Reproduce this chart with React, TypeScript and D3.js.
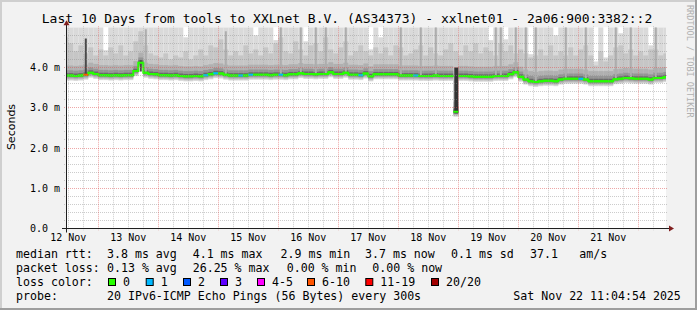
import React from "react";
import * as d3 from "d3";

// ---------- data ----------
const graphStart = new Date(Date.UTC(2025, 10, 12, 11, 4, 54));
const graphEnd = new Date(Date.UTC(2025, 10, 22, 11, 4, 54));
const firstBucket = new Date(Date.UTC(2025, 10, 12, 10, 0, 0));
const bucketHours = 2;

// median rtt per 2h bucket (ms)
const medianRtt = [
  3.8, 3.8, 3.79, 3.8, 3.82, 3.87, 3.84, 3.81, 3.81, 3.8,
  3.81, 3.8, 3.81, 3.81, 3.91, 4.12, 3.87, 3.84, 3.83, 3.81,
  3.81, 3.8, 3.81, 3.79, 3.78, 3.78, 3.79, 3.78, 3.81, 3.83,
  3.86, 3.85, 3.82, 3.8, 3.8, 3.8, 3.8, 3.82, 3.82, 3.82,
  3.82, 3.81, 3.82, 3.82, 3.81, 3.83, 3.83, 3.86, 3.84, 3.84,
  3.83, 3.84, 3.84, 3.88, 3.84, 3.84, 3.87, 3.82, 3.82, 3.81,
  3.85, 3.78, 3.83, 3.83, 3.83, 3.83, 3.83, 3.8, 3.8, 3.8,
  3.8, 3.79, 3.79, 3.79, 3.8, 3.79, 3.79, 3.79, 2.9, 3.79,
  3.79, 3.78, 3.77, 3.77, 3.77, 3.77, 3.79, 3.79, 3.79, 3.83,
  3.88, 3.77, 3.7, 3.66, 3.64, 3.66, 3.67, 3.67, 3.66, 3.7,
  3.72, 3.72, 3.72, 3.72, 3.7, 3.66, 3.66, 3.66, 3.66, 3.66,
  3.71, 3.72, 3.74, 3.73, 3.72, 3.72, 3.72, 3.7, 3.74, 3.74,
  3.76,
];

// top of the medium smoke band per bucket (ms)
const smokeMid = [
  4.75, 4.6, 4.4, 4.55, 4.35, 4.5, 4.3, 4.45, 4.3, 4.5,
  4.35, 4.55, 4.3, 4.4, 4.65, 4.9, 4.55, 4.35, 4.3, 4.25,
  4.35, 4.2, 4.3, 4.25, 4.4, 4.2, 4.3, 4.45, 4.3, 4.55,
  4.5, 4.7, 4.45, 4.3, 4.4, 4.3, 4.55, 4.35, 4.45, 4.3,
  4.5, 4.35, 4.6, 4.75, 4.4, 4.35, 4.65, 4.45, 4.3, 4.55,
  4.6, 4.4, 4.75, 4.45, 4.35, 4.5, 4.65, 4.3, 4.4, 4.55,
  4.4, 4.3, 4.5, 4.35, 4.5, 4.3, 4.55, 4.5, 4.3, 4.35,
  4.45, 4.55, 4.3, 4.5, 4.35, 4.3, 4.45, 4.6, 4.4, 4.3,
  4.55, 4.4, 4.6, 4.35, 4.5, 4.4, 4.3, 4.6, 4.4, 4.55,
  4.35, 4.45, 4.35, 4.25, 4.3, 4.45, 4.3, 4.55, 4.3, 4.4,
  4.3, 4.5, 4.3, 4.45, 4.55, 4.3, 4.05, 4.4, 4.15, 4.3,
  4.5, 4.55, 4.35, 4.45, 4.3, 4.4, 4.3, 4.45, 4.45, 4.3,
  4.35,
];

// buckets where the lightest smoke stops below the graph top: [bucket, top ms]
const smokeGaps: [number, number][] = [
  [8, 4.43], [24, 4.75], [38, 4.8], [42, 4.68], [48, 4.65], [61, 4.45],
  [63, 4.75], [85, 4.68], [88, 4.7], [93, 4.33], [98, 4.8], [106, 4.15],
  [108, 4.25], [111, 4.85], [117, 4.55],
];

// single high pings (thin medium streaks): [bucket, top ms]
const smokeStreaks: [number, number][] = [
  [16, 4.95], [32, 4.9], [43, 5], [47, 5], [50, 5], [52, 5], [56, 5],
  [67, 5], [71, 5], [74, 5], [86, 5], [87, 5], [90, 5], [92, 5], [94, 5],
  [100, 5], [104, 5], [110, 5], [113, 5], [118, 5],
];

// dark spread columns: [bucket, low ms, high ms]
const thinSpikes: [number, number, number][] = [[4, 3.82, 4.72], [15, 3.9, 4.18]];
const wideSpikes: [number, number, number][] = [[78, 2.86, 4.0]];

// loss events: [bucket, loss class index]
const lossEvents: [number, number][] = [
  [4, 5], [28, 1], [30, 1], [35, 1], [37, 1], [43, 1], [59, 1], [70, 1], [103, 1],
];

const lossLabels = ["0", "1", "2", "3", "4-5", "6-10", "11-19", "20/20"];
const lossColors = ["#26ff00", "#00b8ff", "#0059ff", "#5e00ff", "#ff00ff", "#ff5500", "#ff0000", "#a10000"];

const yTicks = [0, 1, 2, 3, 4];
const yTickLabels = ["0.0", "1.0 m", "2.0 m", "3.0 m", "4.0 m"];

const title = "Last 10 Days from tools to XXLnet B.V. (AS34373) - xxlnet01 - 2a06:900:3382::2";
const rttStats = ["median rtt:", "3.8 ms avg", "4.1 ms max", "2.9 ms min", "3.7 ms now", "0.1 ms sd", "37.1", "am/s"];
const lossStats = ["packet loss:", "0.13 % avg", "26.25 % max", "0.00 % min", "0.00 % now"];
const probeInfo = ["probe:", "20 IPv6-ICMP Echo Pings (56 Bytes) every 300s", "Sat Nov 22 11:04:54 2025"];

// ---------- layout ----------
const W = 697;
const H = 310;
const PL = 66;
const PR = 666;
const PB = 228.5;
const PT = 27.25;
const MONO = "'DejaVu Sans Mono', monospace";

const rttX = [16, 107, 192.7, 280.5, 365, 451, 530, 579.3];
const lossX = [16, 107, 192.7, 286.7, 372.3];
const boxX = [108, 145.7, 183, 220, 257, 307, 365.3, 431];
const probeX = [16, 107, 513.3];

export default function App() {
  const x = d3.scaleUtc().domain([graphStart, graphEnd]).range([PL, PR]);
  const y = d3.scaleLinear().domain([0, 5]).range([PB, PT]);

  const buckets = medianRtt.map((m, j) => {
    const t0 = d3.utcHour.offset(firstBucket, j * bucketHours);
    const t1 = d3.utcHour.offset(firstBucket, (j + 1) * bucketHours);
    return { j, m, x0: x(t0), x1: x(t1) };
  });
  const gapMap = new Map(smokeGaps);
  const lossMap = new Map(lossEvents);
  const wideSet = new Set(wideSpikes.map((s) => s[0]));

  const smokeLayers: { color: string; top: (b: any) => number; below: number }[] = [
    { color: "#dadada", top: (b) => y(gapMap.get(b.j) ?? 5), below: 5 },
    { color: "#c6c6c6", top: (b) => y(smokeMid[b.j]), below: 4 },
    { color: "#b0b0b0", top: (b) => y(b.m + 0.25), below: 3 },
    { color: "#959595", top: (b) => y(b.m + 0.13), below: 2 },
    { color: "#6a6a6a", top: (b) => y(b.m + 0.06), below: 1 },
  ];

  // median step line, broken around the wide spread columns
  const stepSegments: [number, number][][] = [];
  let cur: [number, number][] = [];
  buckets.forEach((b, k) => {
    if (wideSet.has(b.j)) {
      if (cur.length) {
        cur.push([b.x0, y(buckets[k - 1].m)]);
        stepSegments.push(cur);
      }
      cur = [];
      return;
    }
    cur.push([b.x0, y(b.m)]);
  });
  const last = buckets[buckets.length - 1];
  cur.push([last.x1, y(last.m)]);
  stepSegments.push(cur);
  const stepLine = d3.line().curve(d3.curveStepAfter);

  const majorH = yTicks.filter((v) => v > 0);
  const minorH = d3.range(1, 25).map((k) => k * 0.2).filter((v) => Math.abs(v - Math.round(v)) > 1e-6);
  const majorV = d3.utcDay.range(graphStart, graphEnd);
  const minorV = d3.utcHour.every(6)!.range(graphStart, graphEnd).filter((d) => d.getUTCHours() !== 0);
  const labelDays = d3.utcDay
    .range(d3.utcDay.floor(graphStart), graphEnd)
    .map((d) => d3.utcHour.offset(d, 12))
    .filter((d) => d >= graphStart && d <= graphEnd);
  const fmt = d3.utcFormat("%d %b");
  const py = (v: number) => Math.floor(y(v)) + 0.5;
  const px = (d: Date) => Math.floor(x(d)) + 0.5;

  return (
    <svg width={W} height={H} style={{ position: "absolute", left: 0, top: 0, display: "block" }}>
      <defs>
        <clipPath id="plotclip">
          <rect x={PL} y={PT} width={PR - PL} height={PB - PT} />
        </clipPath>
      </defs>
      <rect x={0} y={0} width={W} height={H} fill="#f2f2f2" />
      <rect x={0} y={0} width={W} height={2} fill="#cfcfcf" />
      <rect x={0} y={0} width={2} height={H} fill="#cfcfcf" />
      <rect x={0} y={H - 2} width={W} height={2} fill="#9e9e9e" />
      <rect x={W - 2} y={0} width={2} height={H} fill="#9e9e9e" />

      <rect x={PL} y={PT} width={PR - PL} height={PB - PT} fill="#ffffff" />

      <g clipPath="url(#plotclip)">
        {smokeLayers.map((L, li) => (
          <g key={li} fill={L.color}>
            {buckets.map((b) => {
              const t = L.top(b);
              const bot = y(b.m) + L.below;
              return <rect key={b.j} x={b.x0} y={t} width={b.x1 - b.x0} height={Math.max(0, bot - t)} />;
            })}
          </g>
        ))}
        <g fill="#adadad">
          {smokeStreaks.map(([j, top]) => {
            const b = buckets[j];
            const cx = (b.x0 + b.x1) / 2;
            return <rect key={j} x={cx - 1} y={y(top)} width={2} height={y(b.m) - y(top)} />;
          })}
        </g>
        {stepSegments.map((seg, i) => (
          <path key={i} d={stepLine(seg) || ""} fill="none" stroke={lossColors[0]} strokeWidth={2} />
        ))}
        <g fill="#4a4a4a">
          {thinSpikes.map(([j, lo, hi]) => {
            const b = buckets[j];
            const cx = (b.x0 + b.x1) / 2;
            return <rect key={j} x={cx - 1} y={y(hi)} width={2} height={y(lo) - y(hi)} />;
          })}
        </g>
        <g fill="#333333">
          {wideSpikes.map(([j, lo, hi]) => {
            const b = buckets[j];
            return <rect key={j} x={b.x0 + 1} y={y(hi)} width={b.x1 - b.x0 - 1} height={y(lo) - y(hi)} />;
          })}
        </g>
        {buckets.map((b) => (
          <line
            key={b.j}
            x1={b.x0}
            x2={b.x1}
            y1={y(b.m)}
            y2={y(b.m)}
            stroke={lossColors[lossMap.get(b.j) ?? 0]}
            strokeWidth={2}
          />
        ))}
      </g>

      {/* grid */}
      <g strokeWidth={1}>
        {minorH.map((v) => (
          <line key={"mh" + v} x1={PL - 2} x2={PR + 2} y1={py(v)} y2={py(v)} stroke="rgba(143,143,143,0.45)" strokeDasharray="1,1" />
        ))}
        {minorV.map((d) => (
          <line key={"mv" + d.getTime()} x1={px(d)} x2={px(d)} y1={PT - 1} y2={PB + 2} stroke="rgba(143,143,143,0.45)" strokeDasharray="1,1" />
        ))}
        {majorH.map((v) => (
          <line key={"Mh" + v} x1={PL - 2} x2={PR + 2} y1={py(v)} y2={py(v)} stroke="rgba(222,79,79,0.5)" strokeDasharray="1,1" />
        ))}
        {majorV.map((d) => (
          <line key={"Mv" + d.getTime()} x1={px(d)} x2={px(d)} y1={PT - 1} y2={PB + 2} stroke="rgba(222,79,79,0.5)" strokeDasharray="1,1" />
        ))}
      </g>

      {/* axes */}
      <line x1={PL - 4} x2={PR + 4} y1={228.5} y2={228.5} stroke="#1f1f1f" strokeWidth={1} />
      <line x1={66.5} x2={66.5} y1={PB + 4} y2={PT - 4} stroke="#1f1f1f" strokeWidth={1} />
      <path d={`M${PR + 3},${225.5} L${PR + 8},${228.5} L${PR + 3},${231.5} Z`} fill="#801f1f" />
      <path d={`M${63.5},${PT - 2} L${66.5},${PT - 7} L${69.5},${PT - 2} Z`} fill="#801f1f" />

      {/* axis labels */}
      <g fontFamily={MONO} fontSize={10} fill="#000">
        {yTicks.map((v, i) => (
          <text key={v} x={30} y={py(v) + 3.5}>
            {yTickLabels[i]}
          </text>
        ))}
        {labelDays.map((d) => (
          <text key={d.getTime()} x={x(d)} y={240.5} textAnchor="middle">
            {fmt(d)}
          </text>
        ))}
      </g>

      <text
        transform="translate(14.5,127) rotate(-90)"
        textAnchor="middle"
        fontFamily="'DejaVu Sans', sans-serif"
        fontSize={11}
        fill="#000"
      >
        Seconds
      </text>

      <text x={347} y={23} textAnchor="middle" fontFamily={MONO} fontSize={13} fill="#000">
        {title}
      </text>

      <text transform="translate(687,5) rotate(90)" fontFamily={MONO} fontSize={8.5} fill="#b0b0b0">
        RRDTOOL / TOBI OETIKER
      </text>

      {/* legend */}
      <g fontFamily={MONO} fontSize={11.6} fill="#000" style={{ whiteSpace: "pre" }}>
        {rttStats.map((s, i) => (
          <text key={"r" + i} x={rttX[i]} y={257.5}>{s}</text>
        ))}
        {lossStats.map((s, i) => (
          <text key={"l" + i} x={lossX[i]} y={271.5}>{s}</text>
        ))}
        <text x={16} y={285.7}>loss color:</text>
        {lossLabels.map((s, i) => (
          <g key={"c" + i}>
            <rect x={boxX[i] + 0.5} y={278.5} width={7} height={7} fill={lossColors[i]} stroke="#000" strokeWidth={1} />
            <text x={boxX[i] + 15} y={285.7}>{s}</text>
          </g>
        ))}
        {probeInfo.map((s, i) => (
          <text key={"p" + i} x={probeX[i]} y={299.7}>{s}</text>
        ))}
      </g>
    </svg>
  );
}
